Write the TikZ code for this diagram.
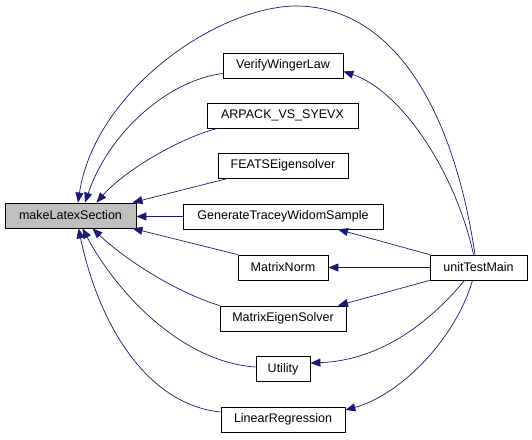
\documentclass[tikz,border=0pt]{standalone}
\usepackage{fontspec}
\setmainfont{Liberation Sans}
\usepackage{tikz}
\usetikzlibrary{arrows.meta}

\definecolor{edgeblue}{HTML}{191970}
\definecolor{boxgray}{HTML}{BFBFBF}

\begin{document}
\begin{tikzpicture}[x=1pt, y=-1pt,
    fnbox/.style={draw=black, line width=0.8pt, fill=white, minimum height=25pt,
                  inner sep=0pt, font=\fontsize{12.5}{14}\selectfont},
    call/.style={draw=edgeblue, line width=0.7pt, -{Triangle[length=10pt,width=8pt]}}]

    \useasboundingbox (0,0) rectangle (532,439);

    % Function boxes
    \node[fnbox, fill=boxgray, minimum width=131pt] (mls) at (70.5,215.5) {makeLatexSection};
    \node[fnbox, minimum width=120pt] (vwl) at (283,65.5)  {VerifyWingerLaw};
    \node[fnbox, minimum width=151pt] (arp) at (282.5,115.5) {ARPACK\_VS\_SYEVX};
    \node[fnbox, minimum width=130pt] (fea) at (283,165.5) {FEATSEigensolver};
    \node[fnbox, minimum width=200pt] (gtw) at (283,216.5) {GenerateTraceyWidomSample};
    \node[fnbox, minimum width=90pt]  (mn)  at (283,267.5) {MatrixNorm};
    \node[fnbox, minimum width=126pt] (mes) at (283,318.5) {MatrixEigenSolver};
    \node[fnbox, minimum width=54pt]  (ut)  at (283,369)   {Utility};
    \node[fnbox, minimum width=124pt] (lr)  at (283,419.5) {LinearRegression};
    \node[fnbox, minimum width=97pt]  (utm) at (478.5,267.5) {unitTestMain};

    % Calls into makeLatexSection
    \draw[call] ([yshift=-8]vwl.west) .. controls (170,80) and (110,130) .. ([xshift=14.5]mls.north);
    \draw[call] ([xshift=-65]arp.south) .. controls (180,138) and (125,170) .. ([xshift=26]mls.north);
    \draw[call] ([xshift=-55]fea.south) -- ([xshift=62]mls.north);
    \draw[call] (gtw.west) -- (gtw.west -| mls.east);
    \draw[call] (mn.north west) -- ([xshift=62]mls.south);
    \draw[call] (mes.north west) .. controls (170,290) and (120,255) .. ([xshift=22]mls.south);
    \draw[call] ([yshift=2]ut.west) .. controls (180,362) and (115,290) .. ([xshift=12]mls.south);
    \draw[call] ([yshift=7.5]lr.west) .. controls (150,405) and (100,330) .. ([xshift=8]mls.south);

    % Direct call from unitTestMain, over the top
    \draw[call] ([xshift=-3.5]utm.north) .. controls (455,120) and (400,10) .. (300,6)
        .. controls (220,4) and (95,90) .. ([xshift=7.5]mls.north);

    % Calls from unitTestMain
    \draw[call] ([xshift=-5]utm.north) .. controls (455,170) and (400,90) .. ([yshift=-6]vwl.east);
    \draw[call] (utm.north west) -- ([xshift=55]gtw.south);
    \draw[call] (utm.west) -- (mn.east);
    \draw[call] (utm.south west) -- ([xshift=55]mes.north);
    \draw[call] ([xshift=-14]utm.south) .. controls (440,310) and (390,360) .. ([yshift=6]ut.east);
    \draw[call] ([xshift=-6]utm.south) .. controls (455,340) and (400,395) .. ([yshift=9.5]lr.east);

\end{tikzpicture}
\end{document}
